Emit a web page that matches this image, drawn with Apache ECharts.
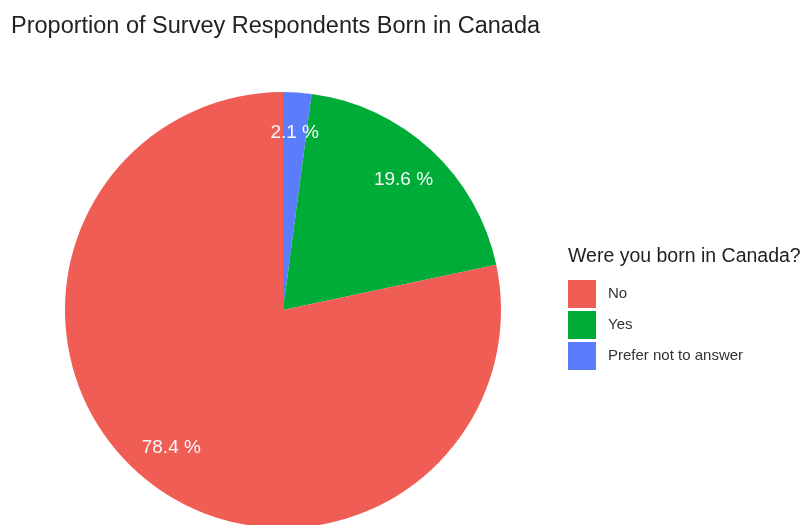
<!DOCTYPE html>
<html>
<head>
<meta charset="utf-8">
<script src="https://cdn.jsdelivr.net/npm/echarts@6/dist/echarts.min.js"></script>
<style>
  html, body { margin: 0; padding: 0; background: #ffffff; }
  #chart { width: 802px; height: 525px; }
</style>
</head>
<body>
<div id="chart"></div>
<script>
// Answers, in the clockwise order they are drawn from 12 o'clock
const categories = ['Prefer not to answer', 'Yes', 'No'];
const shares = [2.1, 19.6, 78.4];
const colors = ['#5B7CFB', '#00AC38', '#F05D55'];
// Legend lists the answers in this order
const legendOrder = ['No', 'Yes', 'Prefer not to answer'];

const FONT = '"Liberation Sans", Arial, Helvetica, sans-serif';
const center = [283, 310];
const R = 218;

const pieData = categories.map((name, i) => ({
  name: name,
  value: shares[i],
  itemStyle: { color: colors[i] }
}));

// A transparent ring carries the percentage labels at 0.8 of the radius
const labelData = categories.map((name, i) => ({
  name: name,
  value: shares[i],
  itemStyle: { color: 'rgba(0,0,0,0)' }
}));

const chart = echarts.init(document.getElementById('chart'), null, { renderer: 'canvas' });
chart.setOption({
  backgroundColor: '#ffffff',
  animation: false,
  title: [
    {
      text: 'Proportion of Survey Respondents Born in Canada',
      left: 11, top: 15, padding: 0,
      textStyle: { fontFamily: FONT, fontSize: 23.5, fontWeight: 'normal', color: '#222222' }
    },
    {
      text: 'Were you born in Canada?',
      left: 568, top: 247, padding: 0,
      textStyle: { fontFamily: FONT, fontSize: 19.5, fontWeight: 'normal', color: '#222222' }
    }
  ],
  legend: {
    data: legendOrder,
    orient: 'vertical',
    left: 568, top: 280, padding: 0,
    itemWidth: 28, itemHeight: 28, itemGap: 3,
    icon: 'rect',
    selectedMode: false,
    textStyle: { fontFamily: FONT, fontSize: 15, color: '#333333', padding: [3, 0, 0, 7] }
  },
  series: [
    {
      type: 'pie',
      center: center,
      radius: [0, R],
      startAngle: 90,
      clockwise: true,
      data: pieData,
      label: { show: false },
      labelLine: { show: false },
      silent: true
    },
    {
      type: 'pie',
      center: center,
      radius: [R * 0.8 - 5, R * 0.8 + 5],
      startAngle: 90,
      clockwise: true,
      data: labelData,
      legendHoverLink: false,
      silent: true,
      label: {
        show: true,
        position: 'inside',
        formatter: p => p.value.toFixed(1) + ' %',
        fontFamily: FONT,
        fontSize: 19,
        color: '#f8f8f8',
        padding: [4, 0, 0, 0]
      },
      labelLine: { show: false }
    }
  ]
});
</script>
</body>
</html>
